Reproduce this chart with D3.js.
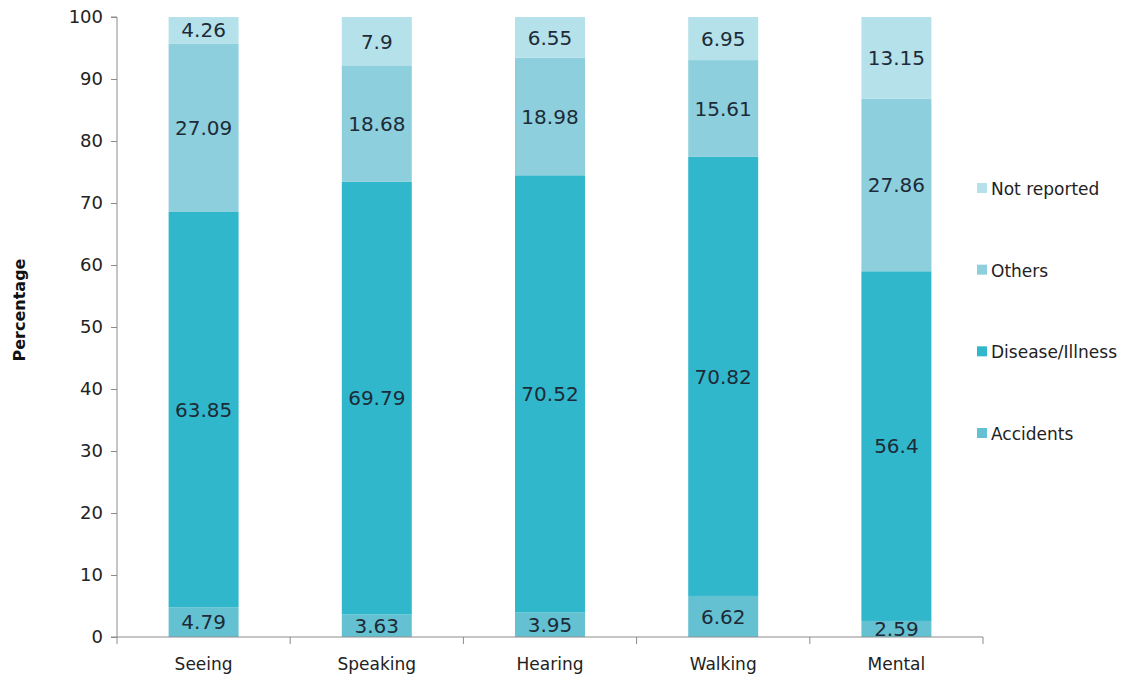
<!DOCTYPE html>
<html><head><meta charset="utf-8">
<script src="https://cdn.jsdelivr.net/npm/d3@7"></script>
<style>body{margin:0;background:#fff}svg{display:block}text{font-family:"DejaVu Sans",sans-serif}</style>
</head><body><svg id="c" width="1147" height="682"></svg>
<script>
const categories = ["Seeing","Speaking","Hearing","Walking","Mental"];
const seriesNames = ["Accidents","Disease/Illness","Others","Not reported"];
const accidents = [4.79,3.63,3.95,6.62,2.59];
const disease = [63.85,69.79,70.52,70.82,56.4];
const others = [27.09,18.68,18.98,15.61,27.86];
const notReported = [4.26,7.9,6.55,6.95,13.15];
const yTicks = [0,10,20,30,40,50,60,70,80,90,100];
const colors = ["#63c1d2","#31b7cb","#8dcfdd","#b4e1ea"];

const svg = d3.select("#c");
const m = {l:117, r:1147-983, t:17, b:682-637};
const W = 1147 - m.l - m.r, H = 682 - m.t - m.b;
const g = svg.append("g").attr("transform",`translate(${m.l},${m.t})`);
const x = d3.scaleBand().domain(categories).range([0,W]).paddingInner(0.596).paddingOuter(0.298);
const y = d3.scaleLinear().domain([0,100]).range([H,0]);

const rows = categories.map((c,i)=>({cat:c,"Accidents":accidents[i],"Disease/Illness":disease[i],"Others":others[i],"Not reported":notReported[i]}));
const stack = d3.stack().keys(seriesNames)(rows);

stack.forEach((s,si)=>{
  const sg = g.append("g");
  sg.selectAll("rect").data(s).join("rect")
    .attr("x",d=>x(d.data.cat)).attr("width",x.bandwidth())
    .attr("y",d=>y(d[1])).attr("height",d=>y(d[0])-y(d[1]))
    .attr("fill",colors[si]);
  sg.selectAll("text").data(s).join("text")
    .attr("x",d=>x(d.data.cat)+x.bandwidth()/2)
    .attr("y",d=>(y(d[0])+y(d[1]))/2)
    .attr("text-anchor","middle").attr("dy","0.36em")
    .attr("font-size",20).attr("fill","#1d2b38")
    .text(d=>d.data[seriesNames[si]]);
});

// y axis
const ya = g.append("g").call(d3.axisLeft(y).tickValues(yTicks).tickSize(6).tickPadding(8));
ya.select(".domain").attr("stroke","#8c8c8c").attr("d",`M-6,${H}H0V0H-6`);
ya.selectAll(".tick line").attr("stroke","#8c8c8c");
ya.selectAll(".tick text").attr("font-size",18).attr("fill","#222");

// x axis with boundary ticks
const xa = g.append("g").attr("transform",`translate(0,${H})`);
xa.append("line").attr("x1",0).attr("x2",W).attr("stroke","#8c8c8c");
const bounds = d3.range(categories.length+1).map(i=>i*x.step());
xa.selectAll("line.b").data(bounds).join("line").attr("class","b")
  .attr("x1",d=>d).attr("x2",d=>d).attr("y1",0).attr("y2",7).attr("stroke","#8c8c8c");
xa.selectAll("text").data(categories).join("text")
  .attr("x",d=>x(d)+x.bandwidth()/2).attr("y",33)
  .attr("text-anchor","middle").attr("font-size",17).attr("fill","#222").text(d=>d);

// y title
svg.append("text").attr("transform","translate(25,310) rotate(-90)")
  .attr("text-anchor","middle").attr("font-size",16).attr("font-weight","bold").attr("fill","#111").text("Percentage");

// legend
const legendOrder = ["Not reported","Others","Disease/Illness","Accidents"];
const legY = d3.scalePoint().domain(legendOrder).range([189,434]);
const lg = svg.append("g");
legendOrder.forEach(n=>{
  const si = seriesNames.indexOf(n);
  lg.append("rect").attr("x",977).attr("y",legY(n)-6).attr("width",10).attr("height",10).attr("fill",colors[si]);
  lg.append("text").attr("x",991).attr("y",legY(n)).attr("dy","0.36em").attr("font-size",17).attr("fill","#222").text(n);
});
</script></body></html>
